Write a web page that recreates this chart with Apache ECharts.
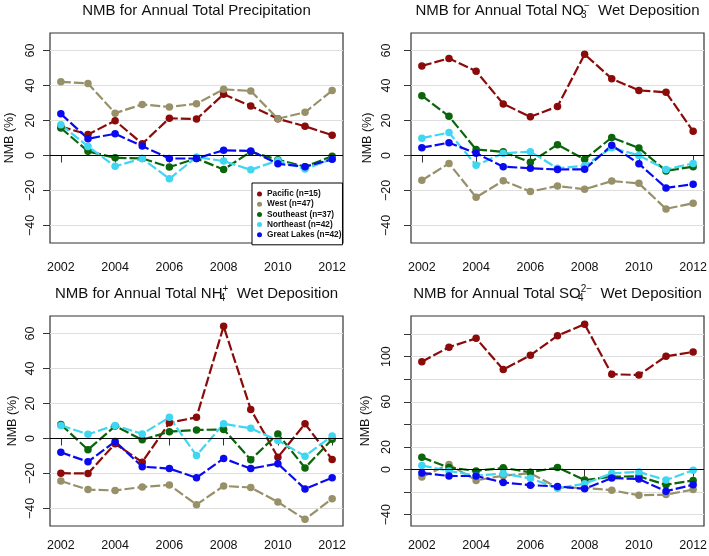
<!DOCTYPE html>
<html>
<head>
<meta charset="utf-8">
<script src="https://cdn.jsdelivr.net/npm/echarts@6/dist/echarts.min.js"></script>
<style>
  html, body { margin: 0; padding: 0; background: #fff; }
  #main { width: 709px; height: 556px; }
</style>
</head>
<body>
<div id="main"></div>
<script>
// years on the x axis
const years = [2002, 2003, 2004, 2005, 2006, 2007, 2008, 2009, 2010, 2011, 2012];
const xTickYears = [2002, 2004, 2006, 2008, 2010, 2012];
const yTicks = [-40, -20, 0, 20, 40, 60];
const yTicksSulfate = [-40, -20, 0, 20, 40, 60, 80, 100, 120];
const yLabelsSulfate = [-40, 0, 20, 60, 100];
const regions = ['Pacific (n=15)', 'West (n=47)', 'Southeast (n=37)', 'Northeast (n=42)', 'Great Lakes (n=42)'];

// NMB (%) – annual total precipitation
const precipPacific   = [16.5, 12, 19.9, 6.7, 21.3, 20.8, 35, 28.3, 21, 16.7, 11.6];
const precipWest      = [42.1, 41.2, 24.2, 29.2, 27.7, 29.6, 37.8, 36.9, 21, 24.7, 37.1];
const precipSoutheast = [15.7, 2.4, -1.3, -1.7, -6.6, -1.7, -8, 2.1, -2.4, -6.4, -0.4];
const precipNortheast = [17.6, 5.2, -6.2, -1.7, -13.3, -0.9, -3.2, -8.2, -2.8, -7.7, -2];
const precipLakes     = [23.8, 9.6, 12.4, 5.4, -1.7, -1.7, 3, 2.6, -4.7, -6.4, -2.2];

// NMB (%) – NO3 wet deposition
const no3Pacific   = [51.2, 55.5, 48.2, 29.5, 22.1, 28, 57.8, 43.9, 37.2, 36.1, 13.8];
const no3West      = [-14.2, -4.5, -23.9, -14.4, -20.6, -17.4, -19.3, -14.6, -15.9, -30.5, -27.3];
const no3Southeast = [34.2, 22.4, 3.4, 2.1, -3.9, 6.2, -2.2, 10.3, 4.3, -8.8, -6.4];
const no3Northeast = [9.9, 13.1, -5.6, 1.3, 2.2, -7.3, -5.8, 4.5, 0, -8, -4.5];
const no3Lakes     = [4.5, 7.3, 1.3, -6.4, -7.3, -8, -7.9, 5.8, -4.7, -18.5, -16.4];

// NMB (%) – NH4 wet deposition
const nh4Pacific   = [-19.8, -20, -3, -13.5, 9, 12.1, 64.1, 16.6, -10.7, 8.4, -12];
const nh4West      = [-24.3, -29.2, -29.7, -27.7, -26.5, -37.8, -27.1, -28, -36.3, -46.2, -34.4];
const nh4Southeast = [8, -6.4, 7.1, -0.7, 3.9, 4.9, 5.2, -12.1, 2.6, -16.8, -0.4];
const nh4Northeast = [7.5, 2.4, 7.5, 2.6, 12.1, -9.7, 8.4, 5.8, -1.1, -10.1, 1.5];
const nh4Lakes     = [-7.9, -13.3, -1.7, -16.1, -17.2, -22.4, -11.4, -17.2, -14.4, -28.8, -22.4];

// NMB (%) – SO4 wet deposition
const so4Pacific   = [95.5, 108.4, 116.2, 88.6, 101.2, 118.6, 128.7, 84.4, 83.8, 100.3, 104.2];
const so4West      = [-6.6, 4.5, -9.6, -5.4, -3.3, -15.9, -16.2, -18.3, -22.8, -22.2, -17.7];
const so4Southeast = [10.8, 1.8, -1.2, 1.5, -2.4, 1.8, -9.3, -6.3, -6, -13.5, -9.6];
const so4Northeast = [3.6, -1.2, -5.4, -3.6, -7.8, -16.5, -12.6, -3.3, -2.1, -9.3, -0.6];
const so4Lakes     = [-3, -5.7, -5.7, -11.4, -13.8, -15, -17.1, -7.5, -8.4, -19.2, -13.5];

const FONT = '"Liberation Sans", Arial, Helvetica, sans-serif';
const colors = ['#8b0a0a', '#989068', '#0b650b', '#3fd6f2', '#0a0af0'];

const panels = [
  { values: [precipPacific, precipWest, precipSoutheast, precipNortheast, precipLakes],
    grid: { left: 50, top: 33 }, yMin: -50, yMax: 70, ticks: yTicks, labels: yTicks,
    yMargin: 13, nameGap: 34, xMargin: 18 },
  { values: [no3Pacific, no3West, no3Southeast, no3Northeast, no3Lakes],
    grid: { left: 411, top: 33 }, yMin: -50, yMax: 70, ticks: yTicks, labels: yTicks,
    yMargin: 18, nameGap: 36.5, xMargin: 18 },
  { values: [nh4Pacific, nh4West, nh4Southeast, nh4Northeast, nh4Lakes],
    grid: { left: 50, top: 316 }, yMin: -50, yMax: 70, ticks: yTicks, labels: yTicks,
    yMargin: 13, nameGap: 31, xMargin: 13 },
  { values: [so4Pacific, so4West, so4Southeast, so4Northeast, so4Lakes],
    grid: { left: 411, top: 316 }, yMin: -50, yMax: 136, ticks: yTicksSulfate, labels: yLabelsSulfate,
    yMargin: 18, nameGap: 38.5, xMargin: 13 }
];

const minusFmt = v => (v < 0 ? '\u2212' + Math.abs(v) : String(v));

const grids = [], xAxes = [], yAxes = [], series = [];
panels.forEach((p, g) => {
  grids.push({
    left: p.grid.left, top: p.grid.top, width: 293, height: 210,
    show: true, borderColor: '#333', borderWidth: 1.2, backgroundColor: 'transparent',
    containLabel: false, outerBoundsMode: 'none'
  });
  xAxes.push({
    type: 'value', gridIndex: g, min: 2001.6, max: 2012.4,
    axisLine: { show: false },
    splitLine: { show: false },
    axisTick: { show: true, length: 7, customValues: xTickYears, lineStyle: { color: '#333', width: 1 } },
    axisLabel: { customValues: xTickYears, margin: p.xMargin, fontSize: 12.5, color: '#111',
      fontFamily: FONT, formatter: v => String(v) }
  });
  yAxes.push({
    type: 'value', gridIndex: g, min: p.yMin, max: p.yMax, interval: 10,
    axisLine: { show: false },
    splitLine: { show: true, lineStyle: { color: '#dedede', width: 1.2 } },
    axisTick: { show: true, length: 7, customValues: p.ticks, lineStyle: { color: '#333', width: 1 } },
    axisLabel: { customValues: p.labels, rotate: 90, margin: p.yMargin, fontSize: 12.5, color: '#111',
      fontFamily: FONT, formatter: minusFmt },
    name: 'NMB (%)', nameLocation: 'middle', nameRotate: 90, nameGap: p.nameGap,
    nameTextStyle: { fontSize: 12.5, color: '#111', fontFamily: FONT }
  });
  p.values.forEach((vals, r) => {
    const s = {
      name: regions[r], type: 'line', xAxisIndex: g, yAxisIndex: g,
      data: years.map((y, i) => [y, vals[i]]),
      symbol: 'circle', symbolSize: 7.5,
      itemStyle: { color: colors[r] },
      lineStyle: { color: colors[r], width: 2.2, type: [10, 3] },
      emphasis: { disabled: true }
    };
    // zero reference line
    if (r === 0) {
      s.markLine = {
        silent: true, symbol: 'none', label: { show: false },
        lineStyle: { color: '#000', width: 1.2, type: 'solid' },
        emphasis: { disabled: true },
        data: [{ yAxis: 0 }]
      };
    }
    series.push(s);
  });
});

// titles with chemical formulas (subscript + superscript stacked)
const titleRich = {
  t: { fontSize: 15, fontFamily: FONT, fill: '#111', lineHeight: 19 },
  b: { fontSize: 10, fontFamily: FONT, fill: '#111', verticalAlign: 'bottom', width: 0 },
  p: { fontSize: 10, fontFamily: FONT, fill: '#111', verticalAlign: 'top' }
};
function titleText(x, y, text) {
  return { type: 'text', x: x, y: y, silent: true,
    style: { text: text, rich: titleRich, align: 'center', verticalAlign: 'top' } };
}

const myChart = echarts.init(document.getElementById('main'), null, { renderer: 'canvas' });
myChart.setOption({
  animation: false,
  backgroundColor: '#fff',
  grid: grids,
  xAxis: xAxes,
  yAxis: yAxes,
  legend: {
    data: regions, orient: 'vertical', left: 252, top: 183,
    icon: 'circle', itemWidth: 5, itemHeight: 5, itemGap: 0.2,
    padding: [6, 1, 5, 5],
    borderColor: '#000', borderWidth: 1, backgroundColor: '#fff',
    textStyle: { fontSize: 8.3, fontWeight: 'bold', color: '#111', fontFamily: FONT, lineHeight: 10 }
  },
  graphic: [
    titleText(196.5, 1, '{t|NMB for Annual Total Precipitation}'),
    titleText(557.5, 1, '{t|NMB for Annual Total NO}{b|3}{p|\u2212}{t|  Wet Deposition}'),
    titleText(196.5, 284, '{t|NMB for Annual Total NH}{b|4}{p|+}{t|  Wet Deposition}'),
    titleText(557.5, 284, '{t|NMB for Annual Total SO}{b|4}{p|2\u2212}{t|  Wet Deposition}')
  ],
  series: series
});
</script>
</body>
</html>
